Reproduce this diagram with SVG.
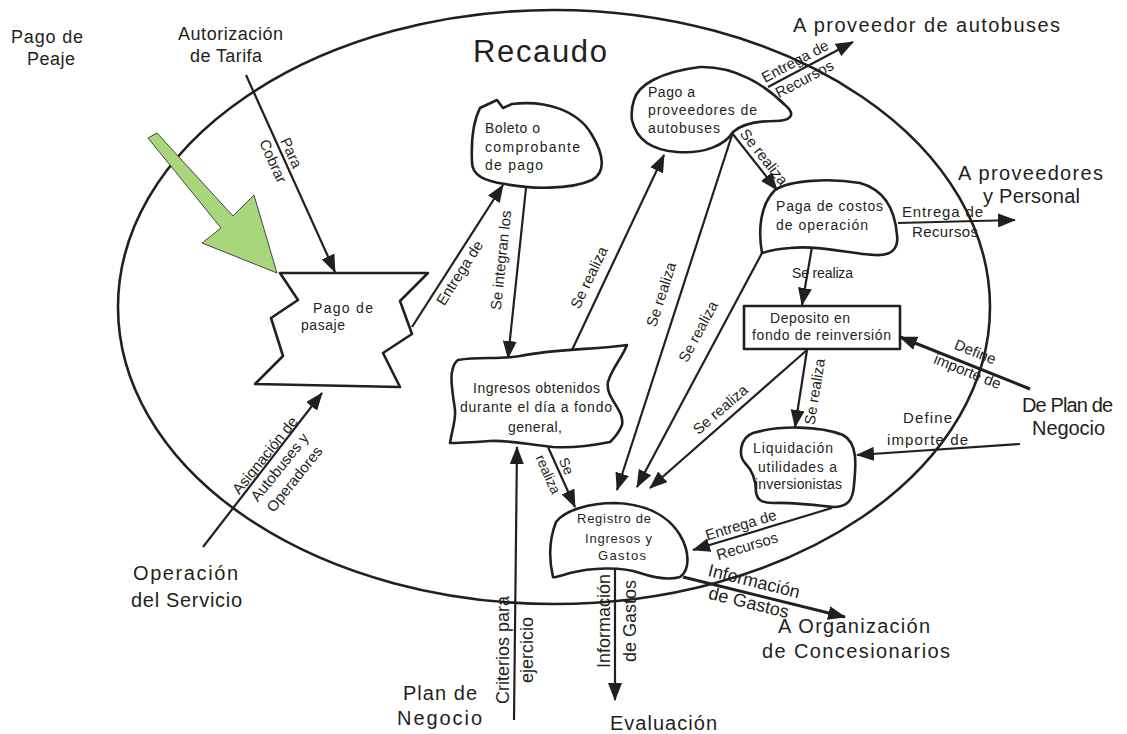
<svg xmlns="http://www.w3.org/2000/svg" width="1127" height="734" viewBox="0 0 1127 734">
<style>
.nd{fill:#fff;stroke:#231f20;stroke-width:2.6;stroke-linejoin:round}
.ln{fill:none;stroke:#231f20;stroke-width:2.2;marker-end:url(#ah)}
.lt{fill:none;stroke:#231f20;stroke-width:3;marker-end:url(#ah)}
text{font-family:"Liberation Sans",Arial,sans-serif;fill:#231f20}
.n{font-size:14px}
.s{font-size:13px}
.l{font-size:15px}
.m{font-size:18px}
.b{font-size:20px}
.c{text-anchor:middle}
</style>
<defs>
<marker id="ah" markerUnits="userSpaceOnUse" markerWidth="18" markerHeight="14" refX="17" refY="7" orient="auto" viewBox="0 0 18 14">
<path d="M0,0 L18,7 L0,14 Z" fill="#231f20"/>
</marker>
</defs>
<rect width="1127" height="734" fill="#fff"/>

<g id="boundary">
<ellipse cx="554" cy="307" rx="436" ry="297" fill="none" stroke="#231f20" stroke-width="2.6"/>
<text x="473" y="62" style="font-size:31px" textLength="134" lengthAdjust="spacing">Recaudo</text>
</g>

<g id="green-arrow">
<polygon points="148,138 157,133 233,216 254,195 277,273 202,243 221,228" fill="#a8d67c" stroke="#231f20" stroke-width="0.8"/>
</g>

<g id="externals">
<text class="m" x="11" y="43" textLength="72" lengthAdjust="spacing">Pago de</text>
<text class="m" x="27" y="65" textLength="48" lengthAdjust="spacing">Peaje</text>
<text class="m" x="178" y="40" textLength="105" lengthAdjust="spacing">Autorización</text>
<text class="m" x="190" y="62" textLength="72" lengthAdjust="spacing">de Tarifa</text>
<text class="b" x="793" y="32" textLength="267" lengthAdjust="spacing">A proveedor de autobuses</text>
<text class="b" x="958" y="180" textLength="145" lengthAdjust="spacing">A proveedores</text>
<text class="b" x="983" y="203" textLength="97" lengthAdjust="spacing">y Personal</text>
<text class="b" x="1022" y="412" textLength="91" lengthAdjust="spacing">De Plan de</text>
<text class="b" x="1032" y="435" textLength="73" lengthAdjust="spacing">Negocio</text>
<text class="b" x="778" y="633" textLength="152" lengthAdjust="spacing">A Organización</text>
<text class="b" x="762" y="658" textLength="188" lengthAdjust="spacing">de Concesionarios</text>
<text class="b" x="610" y="730" textLength="107" lengthAdjust="spacing">Evaluación</text>
<text class="b" x="403" y="700" textLength="74" lengthAdjust="spacing">Plan de</text>
<text class="b" x="397" y="725" textLength="85" lengthAdjust="spacing">Negocio</text>
<text class="b" x="133" y="580" textLength="105" lengthAdjust="spacing">Operación</text>
<text class="b" x="131" y="607" textLength="111" lengthAdjust="spacing">del Servicio</text>
</g>

<g id="node-pago-pasaje">
<polygon class="nd" points="280,273 428,273 400,301 412,334 383,353 400,387 255,384 283,356 271,318 298,300"/>
<text class="n" x="313" y="313" textLength="60" lengthAdjust="spacing">Pago  de</text>
<text class="n" x="301" y="330" textLength="44" lengthAdjust="spacing">pasaje</text>
</g>

<g id="node-boleto">
<path class="nd" d="M480,108 L497,100 L503,108 L512,104 C545,100 578,110 592,135 C604,155 606,172 592,180 C570,190 530,189 505,184 C485,181 472,176 472,162 C471,140 474,120 480,108 Z"/>
<text class="n" x="485" y="133" textLength="55" lengthAdjust="spacing">Boleto o</text>
<text class="n" x="485" y="152" textLength="95" lengthAdjust="spacing">comprobante</text>
<text class="n" x="485" y="170" textLength="58" lengthAdjust="spacing">de pago</text>
</g>

<g id="node-pago-proveedores">
<path class="nd" d="M634,100 C638,85 660,72 700,67 C735,66 765,85 785,105 C797,115 790,121 775,121 C755,121 742,124 733,132 C725,145 705,154 677,152 C650,150 636,138 632,120 C631,112 632,106 634,100 Z"/>
<text class="n" x="648" y="97" textLength="47" lengthAdjust="spacing">Pago a</text>
<text class="n" x="648" y="115" textLength="109" lengthAdjust="spacing">proveedores de</text>
<text class="n" x="648" y="133" textLength="72" lengthAdjust="spacing">autobuses</text>
</g>

<g id="node-paga-costos">
<path class="nd" d="M762,253 C758,230 760,205 775,190 C790,180 830,178 860,183 C885,190 895,210 897,235 C899,250 890,256 875,255 C850,254 820,245 790,248 C775,249 768,251 762,253 Z"/>
<text class="n" x="776" y="211" textLength="107" lengthAdjust="spacing">Paga de costos</text>
<text class="n" x="776" y="230" textLength="92" lengthAdjust="spacing">de operación</text>
</g>

<g id="node-deposito">
<rect class="nd" x="744" y="306" width="156" height="43"/>
<text class="n" x="770" y="323" textLength="80" lengthAdjust="spacing">Deposito en</text>
<text class="n" x="752" y="340" textLength="139" lengthAdjust="spacing">fondo de reinversión</text>
</g>

<g id="node-liquidacion">
<path class="nd" d="M753,433 C780,425 820,426 843,435 C858,443 856,465 854,485 C853,500 848,507 833,507 C815,505 790,502 773,503 C762,503 757,500 756,492 C756,480 752,470 745,463 C738,455 740,438 753,433 Z"/>
<text class="n" x="753" y="453" textLength="80" lengthAdjust="spacing">Liquidación</text>
<text class="n" x="758" y="472" textLength="79" lengthAdjust="spacing">utilidades a</text>
<text class="n" x="755" y="489" textLength="87" lengthAdjust="spacing">inversionistas</text>
</g>

<g id="node-ingresos">
<path class="nd" d="M458,360 C480,356 500,360 520,356 C560,348 595,350 627,345 C622,358 612,368 608,382 C605,398 625,410 622,425 C618,435 612,440 610,442 C590,446 570,448 553,447 C530,445 510,440 490,441 C475,442 460,443 450,443 C452,430 456,420 455,410 C453,395 450,380 452,372 C453,366 455,362 458,360 Z"/>
<text class="n" x="473" y="393" textLength="127" lengthAdjust="spacing">Ingresos obtenidos</text>
<text class="n" x="460" y="412" textLength="152" lengthAdjust="spacing">durante el día a fondo</text>
<text class="n" x="508" y="432" textLength="54" lengthAdjust="spacing">general,</text>
</g>

<g id="node-registro">
<path class="nd" d="M553,577 C549,560 549,540 556,522 C565,510 590,503 615,503 C645,504 668,515 680,535 C690,552 690,570 680,577 C670,580 655,578 640,573 C620,566 590,568 570,573 C560,576 555,578 553,577 Z"/>
<text class="s" x="577" y="523" textLength="74" lengthAdjust="spacing">Registro de</text>
<text class="s" x="585" y="543" textLength="67" lengthAdjust="spacing">Ingresos y</text>
<text class="s" x="598" y="560" textLength="48" lengthAdjust="spacing">Gastos</text>
</g>

<g id="connectors">
<line class="ln" x1="246" y1="75" x2="335" y2="272"/>
<line class="ln" x1="203" y1="547" x2="322" y2="393"/>
<line class="ln" x1="412" y1="327" x2="503" y2="185"/>
<line class="ln" x1="526" y1="188" x2="508" y2="358"/>
<line class="ln" x1="572" y1="350" x2="664" y2="155"/>
<line class="ln" x1="733" y1="132" x2="617" y2="490"/>
<line class="ln" x1="762" y1="253" x2="637" y2="487"/>
<line class="ln" x1="807" y1="350" x2="650" y2="488"/>
<line class="ln" x1="812" y1="247" x2="802" y2="305"/>
<line class="ln" x1="807" y1="350" x2="795" y2="427"/>
<line class="ln" x1="732" y1="133" x2="777" y2="190"/>
<line class="ln" x1="768" y1="87" x2="853" y2="42"/>
<line class="ln" x1="898" y1="223" x2="1015" y2="220"/>
<line class="lt" x1="1030" y1="389" x2="900" y2="337"/>
<line class="ln" x1="1020" y1="444" x2="857" y2="455"/>
<line class="ln" x1="832" y1="508" x2="693" y2="550"/>
<line class="lt" x1="683" y1="577" x2="845" y2="617"/>
<line class="ln" x1="615" y1="568" x2="615" y2="700"/>
<line class="ln" x1="514" y1="720" x2="517" y2="447"/>
<line class="ln" x1="548" y1="447" x2="575" y2="507"/>

<text class="l c" transform="translate(282,157) rotate(65.7)"><tspan x="0" y="-5">Para</tspan><tspan x="0" y="15">Cobrar</tspan></text>
<text class="l c" transform="translate(272,461) rotate(-51.2)"><tspan x="0" y="-4">Asignación de</tspan><tspan x="0" y="15">Autobuses y</tspan><tspan x="0" y="34">Operadores</tspan></text>
<text class="l c" transform="translate(450.5,267) rotate(-57.3)" x="0" y="16">Entrega de</text>
<text class="l c" transform="translate(518,262) rotate(-84)" x="0" y="-12">Se integran los</text>
<text class="l c" transform="translate(603.6,284.5) rotate(-64.3)" x="0" y="-11">Se realiza</text>
<text class="l c" transform="translate(678.5,300) rotate(-72)" x="0" y="-13">Se realiza</text>
<text class="l c" transform="translate(715,340.7) rotate(-61.9)" x="0" y="-14">Se realiza</text>
<text class="l c" transform="translate(729,419.4) rotate(-40.9)" x="0" y="-8">Se realiza</text>
<text class="n" x="792" y="278" textLength="61" lengthAdjust="spacing">Se realiza</text>
<text class="l c" transform="translate(801,389.5) rotate(-80.9)" x="0" y="19">Se realiza</text>
<text class="l c" transform="translate(756,163.3) rotate(51.7)" x="0" y="-5">Se realiza</text>
<text class="l c" transform="translate(799.8,70.2) rotate(-27.9)"><tspan x="0" y="-5">Entrega de</tspan><tspan x="0" y="15">Recursos</tspan></text>
<text class="l" x="902" y="217" textLength="81" lengthAdjust="spacing">Entrega de</text>
<text class="l" x="912" y="237" textLength="66" lengthAdjust="spacing">Recursos</text>
<text class="l c" transform="translate(970,365) rotate(21.8)"><tspan x="0" y="-9">Define</tspan><tspan x="0" y="12">importe de</tspan></text>
<text class="l" x="903" y="423" textLength="49" lengthAdjust="spacing">Define</text>
<text class="l" x="887" y="445" textLength="81" lengthAdjust="spacing">importe de</text>
<text class="l c" transform="translate(743.7,534.7) rotate(-16.8)"><tspan x="0" y="-5">Entrega de</tspan><tspan x="0" y="17">Recursos</tspan></text>
<text class="m c" transform="translate(751,593.8) rotate(13.9)"><tspan x="0" y="-7">Información</tspan><tspan x="0" y="15">de Gastos</tspan></text>
<text class="m c" transform="translate(615,621) rotate(-90)"><tspan x="0" y="-5">Información</tspan><tspan x="0" y="21">de Gastos</tspan></text>
<text class="m c" transform="translate(515,650) rotate(-90)"><tspan x="0" y="-6">Criterios para</tspan><tspan x="0" y="18">ejercicio</tspan></text>
<text class="n c" transform="translate(558.3,469.8) rotate(65.8)"><tspan x="0" y="-4">Se</tspan><tspan x="0" y="16">realiza</tspan></text>
</g>
</svg>
